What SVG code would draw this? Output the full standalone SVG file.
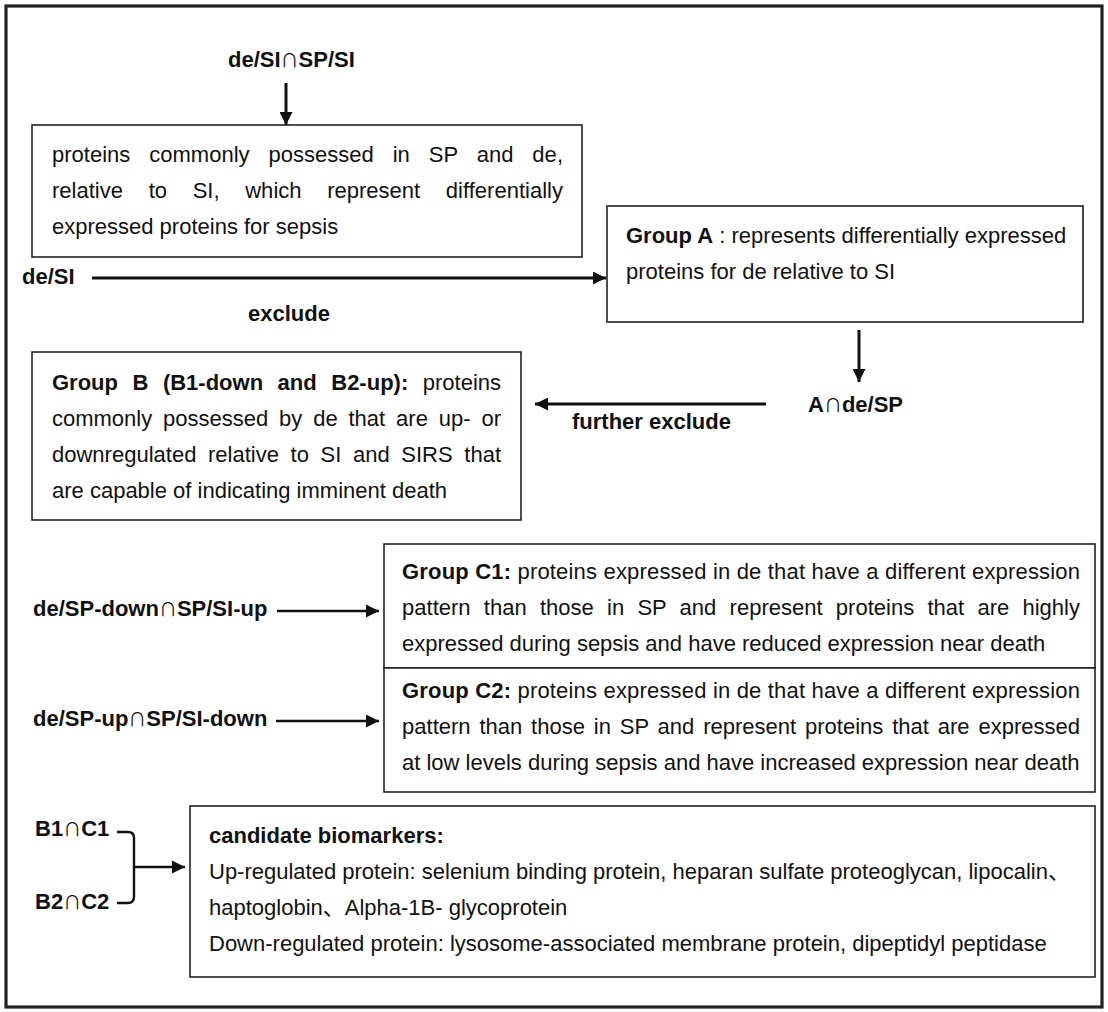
<svg xmlns="http://www.w3.org/2000/svg" width="1108" height="1012" viewBox="0 0 1108 1012">
<defs>
<style>
text{font-family:"Liberation Sans",Arial,"Noto Sans CJK SC",sans-serif;font-size:22px;fill:#111}
.b{font-weight:bold}
.cap{font-family:"Noto Sans CJK SC","Noto Sans CJK JP",sans-serif;font-weight:normal;font-size:18px}
.box{fill:#fff;stroke:#222;stroke-width:1.6}
.con{fill:none;stroke:#111;stroke-width:3}
.thin{fill:none;stroke:#111;stroke-width:2.4}
</style>
<marker id="ah" viewBox="0 0 10 10" refX="10" refY="5" markerWidth="14" markerHeight="13" markerUnits="userSpaceOnUse" orient="auto"><path d="M0,0 L10,5 L0,10 z" fill="#111"/></marker>
</defs>
<rect width="1108" height="1012" fill="#fff"/>
<rect x="6" y="6" width="1096" height="1001" fill="none" stroke="#222" stroke-width="3.2"/>

<g id="connectors">
<line class="con" x1="286" y1="83" x2="286" y2="125" marker-end="url(#ah)"/>
<line class="con" x1="92" y1="278" x2="606" y2="278" marker-end="url(#ah)"/>
<line class="con" x1="859" y1="330" x2="859" y2="382" marker-end="url(#ah)"/>
<line class="con" x1="766" y1="404" x2="535" y2="404" marker-end="url(#ah)"/>
<line class="thin" x1="277" y1="611" x2="379" y2="611" marker-end="url(#ah)"/>
<line class="thin" x1="276" y1="721" x2="379" y2="721" marker-end="url(#ah)"/>
<path class="thin" d="M117 832 H128 Q134 832 134 838 V897 Q134 903 128 903 H117"/>
<line class="thin" x1="134" y1="867" x2="185" y2="867" marker-end="url(#ah)"/>
</g>

<g id="label-top"><text class="b" x="228" y="67">de/SI<tspan class="cap">∩</tspan>SP/SI</text></g>
<g id="label-deSI"><text class="b" x="22" y="284">de/SI</text></g>
<g id="label-exclude"><text class="b" x="248" y="321">exclude</text></g>
<g id="label-AdeSP"><text class="b" x="808" y="412">A<tspan class="cap">∩</tspan>de/SP</text></g>
<g id="label-further"><text class="b" x="572" y="429">further exclude</text></g>
<g id="label-c1"><text class="b" x="33" y="616">de/SP-down<tspan class="cap">∩</tspan>SP/SI-up</text></g>
<g id="label-c2"><text class="b" x="33" y="726">de/SP-up<tspan class="cap">∩</tspan>SP/SI-down</text></g>
<g id="label-b1c1"><text class="b" x="35" y="836">B1<tspan class="cap">∩</tspan>C1</text></g>
<g id="label-b2c2"><text class="b" x="35" y="909">B2<tspan class="cap">∩</tspan>C2</text></g>

<g id="box-sepsis">
<rect class="box" x="32" y="125" width="550" height="132"/>
<text x="52" y="162" word-spacing="12.8" textLength="511" lengthAdjust="spacing">proteins commonly possessed in SP and de,</text>
<text x="52" y="198" word-spacing="19.5" textLength="511" lengthAdjust="spacing">relative to SI, which represent differentially</text>
<text x="52" y="234">expressed proteins for sepsis</text>
</g>

<g id="box-groupA">
<rect class="box" x="607" y="206" width="476" height="116"/>
<text x="626" y="243"><tspan class="b">Group A</tspan> : represents differentially expressed</text>
<text x="626" y="279">proteins for de relative to SI</text>
</g>

<g id="box-groupB">
<rect class="box" x="32" y="352" width="489" height="168"/>
<text x="52" y="390" word-spacing="8.4" textLength="449" lengthAdjust="spacing"><tspan class="b">Group B (B1-down and B2-up):</tspan> proteins</text>
<text x="52" y="426" word-spacing="4.8" textLength="449" lengthAdjust="spacing">commonly possessed by de that are up- or</text>
<text x="52" y="462" word-spacing="5.5" textLength="449" lengthAdjust="spacing">downregulated relative to SI and SIRS that</text>
<text x="52" y="498">are capable of indicating imminent death</text>
</g>

<g id="box-groupC1">
<rect class="box" x="384" y="544" width="711" height="124"/>
<text x="402" y="579" textLength="678" lengthAdjust="spacing"><tspan class="b">Group C1:</tspan> proteins expressed in de that have a different expression</text>
<text x="402" y="615" word-spacing="7.1" textLength="678" lengthAdjust="spacing">pattern than those in SP and represent proteins that are highly</text>
<text x="402" y="651">expressed during sepsis and have reduced expression near death</text>
</g>

<g id="box-groupC2">
<rect class="box" x="384" y="668" width="711" height="124"/>
<text x="402" y="698" textLength="678" lengthAdjust="spacing"><tspan class="b">Group C2:</tspan> proteins expressed in de that have a different expression</text>
<text x="402" y="734" word-spacing="2.7" textLength="678" lengthAdjust="spacing">pattern than those in SP and represent proteins that are expressed</text>
<text x="402" y="770">at low levels during sepsis and have increased expression near death</text>
</g>

<g id="box-candidates">
<rect class="box" x="190" y="806" width="905" height="171"/>
<text class="b" x="209" y="843">candidate biomarkers:</text>
<text x="209" y="879">Up-regulated protein: selenium binding protein, heparan sulfate proteoglycan, lipocalin、</text>
<text x="209" y="915">haptoglobin、Alpha-1B- glycoprotein</text>
<text x="209" y="951">Down-regulated protein: lysosome-associated membrane protein, dipeptidyl peptidase</text>
</g>
</svg>
